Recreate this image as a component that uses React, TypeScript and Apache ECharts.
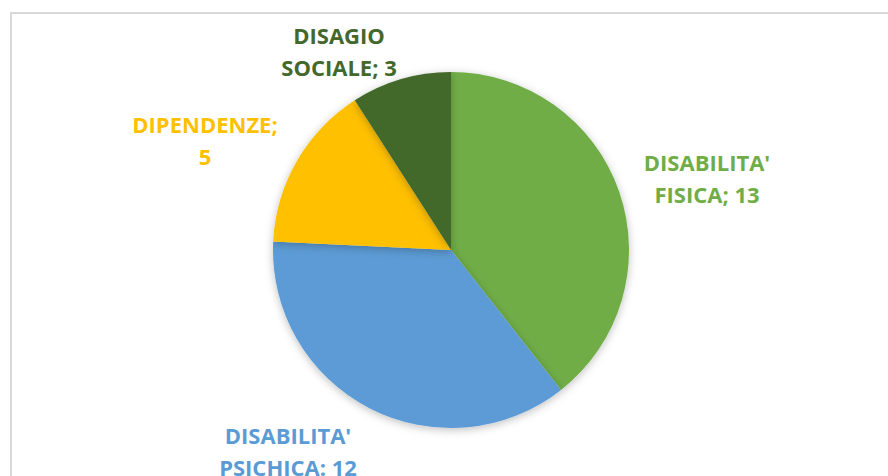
import React, { useEffect, useRef } from "react";
import * as echarts from "echarts";

const categories = ["DISABILITA' FISICA", "DISABILITA' PSICHICA", "DIPENDENZE", "DISAGIO SOCIALE"];
const values = [13, 12, 5, 3];
const labelTexts = ["DISABILITA'\nFISICA; 13", "DISABILITA'\nPSICHICA: 12", "DIPENDENZE;\n5", "DISAGIO\nSOCIALE; 3"];
const colors = ["#70AD47", "#5B9BD5", "#FFC000", "#43682B"];

const labelPos = [
  [707, 178],
  [288, 451],
  [205, 140],
  [339, 51],
];

export default function App() {
  const ref = useRef<HTMLDivElement>(null);
  useEffect(() => {
    document.body.style.margin = "0";
    const chart = echarts.init(ref.current!, undefined, { renderer: "svg" });
    chart.setOption({
      animation: false,
      backgroundColor: "#ffffff",
      graphic: [
        {
          type: "rect",
          shape: { x: 11, y: 13, width: 1000, height: 600 },
          style: { fill: "none", stroke: "#d9d9d9", lineWidth: 2 },
          silent: true,
          z: -1,
        },
      ],
      series: [
        {
          type: "pie",
          center: [451, 250],
          radius: 178,
          startAngle: 90,
          clockwise: true,
          itemStyle: {
            shadowBlur: 8,
            shadowColor: "rgba(0,0,0,0.25)",
            shadowOffsetY: 2,
          },
          label: {
            show: true,
            position: "outside",
            formatter: (p: any) => labelTexts[p.dataIndex],
            fontFamily: "Open Sans",
            fontWeight: "bold",
            fontSize: 22,
            lineHeight: 32,
            align: "center",
          },
          labelLine: { show: false },
          labelLayout: (params: any) => ({
            x: labelPos[params.dataIndex][0],
            y: labelPos[params.dataIndex][1],
            align: "center",
            verticalAlign: "middle",
          }),
          data: categories.map((c, i) => ({
            name: c,
            value: values[i],
            itemStyle: { color: colors[i] },
            label: { color: colors[i] },
          })),
        },
      ],
    });
    return () => chart.dispose();
  }, []);
  return <div ref={ref} style={{ width: 888, height: 476 }} />;
}
